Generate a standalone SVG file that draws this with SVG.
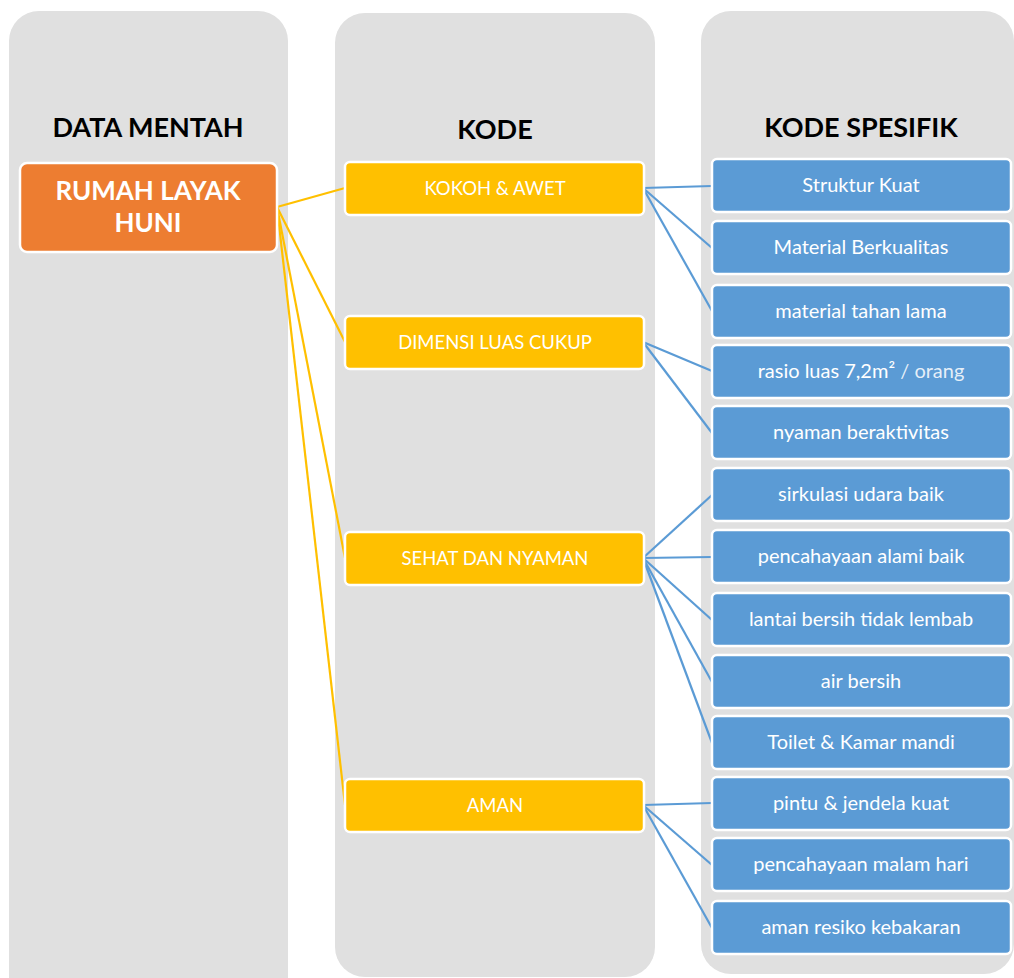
<svg xmlns="http://www.w3.org/2000/svg" width="1014" height="978" viewBox="0 0 1014 978">
  <style>
    .panel { fill: #E0E0E0; }
    .title { font-family: Lato, "Open Sans", sans-serif; font-weight: bold; font-size: 27px; fill: #000; text-anchor: middle; }
    .root rect { fill: #ED7D31; stroke: #fff; stroke-width: 2.5; }
    .root text { font-family: Lato, "Open Sans", sans-serif; font-weight: bold; font-size: 26px; fill: #fff; text-anchor: middle; }
    .code rect { fill: #FFC000; stroke: #fff; stroke-width: 2.5; }
    .spec rect { fill: #5B9BD5; stroke: #fff; stroke-width: 2.5; }
    .code text, .spec text { font-family: Lato, "Open Sans", sans-serif; fill: #fff; text-anchor: middle; }
    .code text { font-size: 18.5px; }
    .spec text { font-size: 20px; }
    .lnk-y { stroke: #FFC000; stroke-width: 2.2; fill: none; }
    .lnk-b { stroke: #5B9BD5; stroke-width: 2.2; fill: none; }
  </style>

  <!-- column backgrounds -->
  <g id="columns">
    <rect class="panel" x="9" y="11" width="279" height="1000" rx="30"/>
    <rect class="panel" x="335" y="13" width="320" height="964" rx="30"/>
    <rect class="panel" x="701" y="11" width="313" height="963" rx="30"/>
  </g>

  <g id="titles">
    <text class="title" x="148" y="137">DATA MENTAH</text>
    <text class="title" x="495" y="139">KODE</text>
    <text class="title" x="861" y="137">KODE SPESIFIK</text>
  </g>

  <!-- connectors -->
  <g id="connectors">
    <line class="lnk-y" x1="277" y1="207" x2="345" y2="188"/>
    <line class="lnk-y" x1="277" y1="207" x2="345" y2="342"/>
    <line class="lnk-y" x1="277" y1="207" x2="345" y2="558"/>
    <line class="lnk-y" x1="277" y1="207" x2="345" y2="805"/>

    <line class="lnk-b" x1="643" y1="188" x2="712" y2="186"/>
    <line class="lnk-b" x1="643" y1="188" x2="712" y2="248"/>
    <line class="lnk-b" x1="643" y1="188" x2="712" y2="311"/>

    <line class="lnk-b" x1="643" y1="342" x2="712" y2="371"/>
    <line class="lnk-b" x1="643" y1="342" x2="712" y2="433"/>

    <line class="lnk-b" x1="643" y1="558" x2="712" y2="495"/>
    <line class="lnk-b" x1="643" y1="558" x2="712" y2="557"/>
    <line class="lnk-b" x1="643" y1="558" x2="712" y2="620"/>
    <line class="lnk-b" x1="643" y1="558" x2="712" y2="682"/>
    <line class="lnk-b" x1="643" y1="558" x2="712" y2="743"/>

    <line class="lnk-b" x1="643" y1="805" x2="712" y2="803"/>
    <line class="lnk-b" x1="643" y1="805" x2="712" y2="865"/>
    <line class="lnk-b" x1="643" y1="805" x2="712" y2="928"/>
  </g>

  <g id="root" class="root">
    <rect x="20" y="163" width="257" height="89" rx="7"/>
    <text x="148" y="200">RUMAH LAYAK</text>
    <text x="148" y="232">HUNI</text>
  </g>

  <g id="kokoh-awet" class="code">
    <rect x="345" y="162" width="299" height="53" rx="5"/>
    <text x="495" y="195">KOKOH &amp; AWET</text>
  </g>
  <g id="dimensi-luas-cukup" class="code">
    <rect x="345" y="316" width="299" height="53" rx="5"/>
    <text x="495" y="349">DIMENSI LUAS CUKUP</text>
  </g>
  <g id="sehat-dan-nyaman" class="code">
    <rect x="345" y="532" width="299" height="53" rx="5"/>
    <text x="495" y="565">SEHAT DAN NYAMAN</text>
  </g>
  <g id="aman" class="code">
    <rect x="345" y="779" width="299" height="53" rx="5"/>
    <text x="495" y="812">AMAN</text>
  </g>

  <g id="struktur-kuat" class="spec">
    <rect x="712" y="159" width="299" height="53" rx="5"/>
    <text x="861" y="192">Struktur Kuat</text>
  </g>
  <g id="material-berkualitas" class="spec">
    <rect x="712" y="221" width="299" height="53" rx="5"/>
    <text x="861" y="254">Material Berkualitas</text>
  </g>
  <g id="material-tahan-lama" class="spec">
    <rect x="712" y="285" width="299" height="53" rx="5"/>
    <text x="861" y="318">material tahan lama</text>
  </g>
  <g id="rasio-luas" class="spec">
    <rect x="712" y="345" width="299" height="53" rx="5"/>
    <text x="861" y="378">rasio luas 7,2m² <tspan fill-opacity="0.85">/ orang</tspan></text>
  </g>
  <g id="nyaman-beraktivitas" class="spec">
    <rect x="712" y="406" width="299" height="53" rx="5"/>
    <text x="861" y="439">nyaman beraktivitas</text>
  </g>
  <g id="sirkulasi-udara" class="spec">
    <rect x="712" y="468" width="299" height="53" rx="5"/>
    <text x="861" y="501">sirkulasi udara baik</text>
  </g>
  <g id="pencahayaan-alami" class="spec">
    <rect x="712" y="530" width="299" height="53" rx="5"/>
    <text x="861" y="563">pencahayaan alami baik</text>
  </g>
  <g id="lantai-bersih" class="spec">
    <rect x="712" y="593" width="299" height="53" rx="5"/>
    <text x="861" y="626">lantai bersih tidak lembab</text>
  </g>
  <g id="air-bersih" class="spec">
    <rect x="712" y="655" width="299" height="53" rx="5"/>
    <text x="861" y="688">air bersih</text>
  </g>
  <g id="toilet-kamar-mandi" class="spec">
    <rect x="712" y="716" width="299" height="53" rx="5"/>
    <text x="861" y="749">Toilet &amp; Kamar mandi</text>
  </g>
  <g id="pintu-jendela" class="spec">
    <rect x="712" y="777" width="299" height="53" rx="5"/>
    <text x="861" y="810">pintu &amp; jendela kuat</text>
  </g>
  <g id="pencahayaan-malam" class="spec">
    <rect x="712" y="838" width="299" height="53" rx="5"/>
    <text x="861" y="871">pencahayaan malam hari</text>
  </g>
  <g id="aman-kebakaran" class="spec">
    <rect x="712" y="901" width="299" height="53" rx="5"/>
    <text x="861" y="934">aman resiko kebakaran</text>
  </g>
</svg>
